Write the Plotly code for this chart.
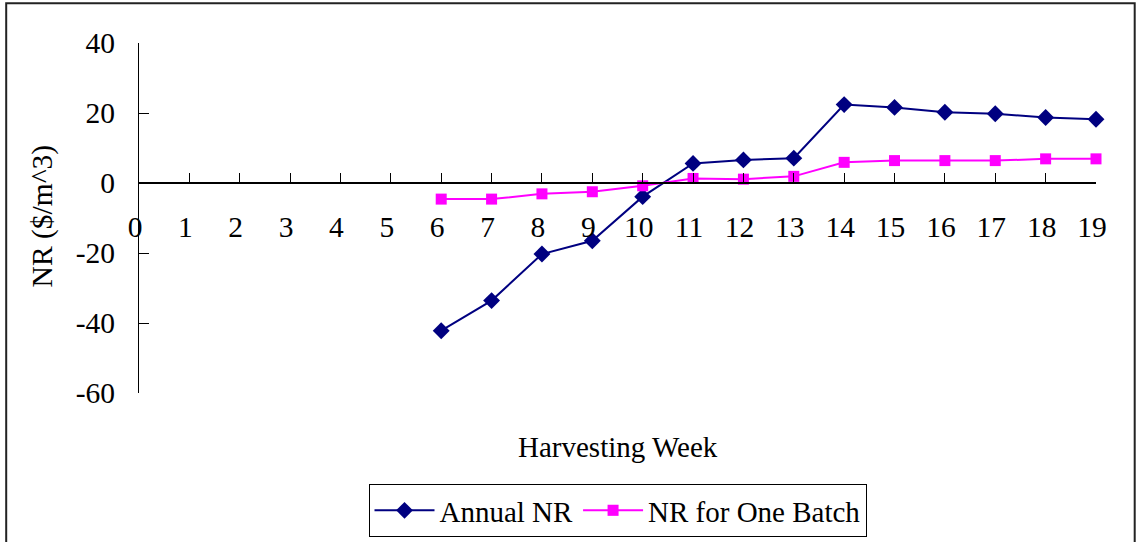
import plotly.graph_objects as go

weeks = [6, 7, 8, 9, 10, 11, 12, 13, 14, 15, 16, 17, 18, 19]
annual_nr = [-42.2, -33.6, -20.3, -16.5, -3.9, 5.6, 6.6, 7.1, 22.4, 21.6, 20.2, 19.8, 18.7, 18.2]
batch_nr = [-4.6, -4.6, -3.1, -2.5, -0.8, 1.3, 1.1, 1.9, 5.9, 6.4, 6.4, 6.4, 6.9, 6.9]
x_ticks = list(range(0, 20))
y_ticks = [40, 20, 0, -20, -40, -60]
y_tick_text = ["40", "20", "0", "-20", "-40", "-60"]

FONT = "Liberation Serif"
FS = 29.5

fig = go.Figure()
fig.add_trace(go.Scatter(
    x=weeks, y=annual_nr, name="Annual NR", mode="lines+markers",
    line=dict(color="#000080", width=2),
    marker=dict(symbol="diamond", size=13, color="#000080"),
    cliponaxis=False,
))
fig.add_trace(go.Scatter(
    x=weeks, y=batch_nr, name="NR for One Batch", mode="lines+markers",
    line=dict(color="#FF00FF", width=2),
    marker=dict(symbol="square", size=11, color="#FF00FF"),
    cliponaxis=False,
))

L, R, T, B = 139.3, 1096.3, 43.3, 393.3
W, H = R - L, B - T
FIG_H = 542

def px(x):
    return (x - L) / W

def py(y):
    return (B - y) / H

fig.update_layout(
    width=1138, height=FIG_H,
    margin=dict(l=139, r=42, t=43, b=149, pad=0, autoexpand=False),
    paper_bgcolor="white", plot_bgcolor="white",
    font=dict(family=FONT, size=FS, color="black"),
    showlegend=True,
    legend=dict(
        orientation="h", x=0.5, xanchor="center",
        yref="container", y=1 - 484 / FIG_H, yanchor="top",
        bordercolor="black", borderwidth=1, font=dict(family=FONT, size=29),
        bgcolor="white", itemwidth=60,
    ),
    xaxis=dict(
        range=[0, 19], tickvals=x_ticks, ticktext=[str(v) for v in x_ticks],
        showgrid=False, zeroline=False, showline=True, linecolor="black", linewidth=1.5,
        ticks="inside", ticklen=9, tickcolor="black", tickwidth=1,
        anchor="free", position=0.6, ticklabelstandoff=18, ticklabelshift=-4,
        tickfont=dict(family=FONT, size=FS),
    ),
    yaxis=dict(
        range=[-60, 40], tickvals=y_ticks, ticktext=y_tick_text,
        showgrid=False, zeroline=False, showline=True, linecolor="black", linewidth=1,
        ticks="inside", ticklen=10, tickcolor="black", tickwidth=1,
        ticklabelstandoff=17, tickfont=dict(family=FONT, size=FS),
    ),
    annotations=[
        dict(text="Harvesting Week", xref="paper", yref="paper", x=0.5, y=py(447),
             xanchor="center", yanchor="middle", showarrow=False,
             font=dict(family=FONT, size=29)),
        dict(text="NR ($/m^3)", xref="paper", yref="paper", x=px(43), y=py(216),
             xanchor="center", yanchor="middle", showarrow=False, textangle=-90,
             font=dict(family=FONT, size=29.5)),
    ],
    shapes=[
        dict(type="rect", xref="paper", yref="paper",
             x0=px(6.5), x1=px(1135), y0=py(560), y1=py(3.5),
             line=dict(color="#222", width=2), fillcolor="rgba(0,0,0,0)", layer="below"),
    ],
)

fig.write_html("out.html")
